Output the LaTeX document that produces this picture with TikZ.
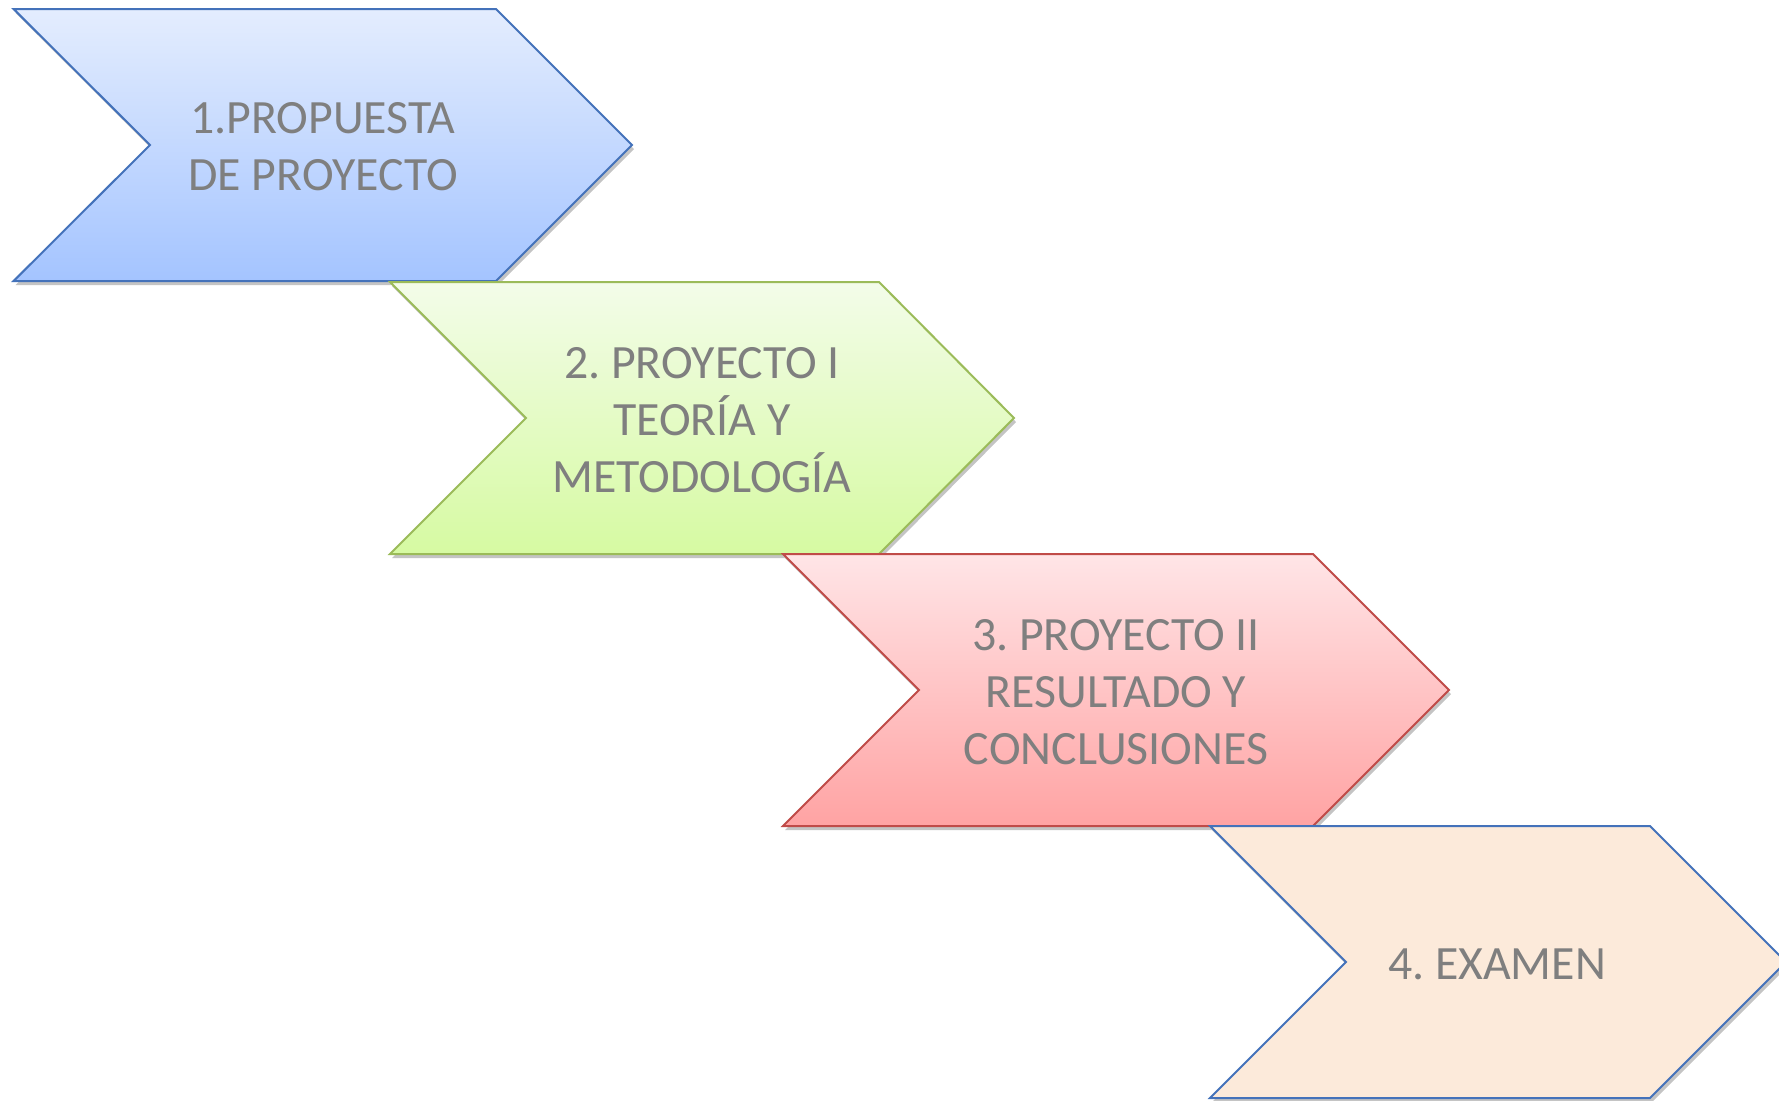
\documentclass[tikz,border=0pt]{standalone}
\usepackage{fontspec}
\setmainfont{Carlito}
\frenchspacing
\definecolor{txtgray}{RGB}{127,127,127}
\definecolor{bluetop}{RGB}{228,237,254}
\definecolor{bluebot}{RGB}{164,196,255}
\definecolor{blueline}{RGB}{68,114,186}
\definecolor{greentop}{RGB}{243,252,233}
\definecolor{greenbot}{RGB}{214,250,162}
\definecolor{greenline}{RGB}{155,187,89}
\definecolor{redtop}{RGB}{255,229,231}
\definecolor{redbot}{RGB}{255,163,163}
\definecolor{redline}{RGB}{192,75,72}
\definecolor{peach}{RGB}{252,234,218}
\definecolor{shadowgray}{RGB}{196,196,196}
\tikzset{
  chev/.style={line width=1pt, line join=miter},
  shad/.style={fill=shadowgray, draw=none},
  lbl/.style={font=\fontsize{23.9}{28.5}\selectfont, text=txtgray, align=center, inner sep=0pt},
}
\begin{document}
\begin{tikzpicture}[x=0.5pt,y=-0.5pt]
\useasboundingbox[fill=white] (0,0) rectangle (1779,1100);
% chevron 1
\fill[shad] (15.6,13) -- (498,13) -- (634,149) -- (498,285) -- (15.6,285) -- (152,149) -- cycle;
\path[chev, draw=blueline, top color=bluetop, bottom color=bluebot]
  (13.6,9) -- (496,9) -- (632,145) -- (496,281) -- (13.6,281) -- (150,145) -- cycle;
% chevron 2
\fill[shad] (392,286) -- (881,286) -- (1016,422) -- (881,558) -- (392,558) -- (528,422) -- cycle;
\path[chev, draw=greenline, top color=greentop, bottom color=greenbot]
  (390,282) -- (879,282) -- (1014,418) -- (879,554) -- (390,554) -- (526,418) -- cycle;
% chevron 3
\fill[shad] (785,558) -- (1315,558) -- (1451,694) -- (1315,830) -- (785,830) -- (921,694) -- cycle;
\path[chev, draw=redline, top color=redtop, bottom color=redbot]
  (783,554) -- (1313,554) -- (1449,690) -- (1313,826) -- (783,826) -- (919,690) -- cycle;
% chevron 4
\fill[shad] (1212,830) -- (1652,830) -- (1788,966) -- (1652,1102) -- (1212,1102) -- (1348,966) -- cycle;
\path[chev, draw=blueline, fill=peach]
  (1210,826) -- (1650,826) -- (1786,962) -- (1650,1098) -- (1210,1098) -- (1346,962) -- cycle;
% labels
\node[lbl] (s1) at (323,147) {1.PROPUESTA\\DE PROYECTO};
\node[lbl] (s2) at (702,420) {2. PROYECTO I\\TEORÍA Y\\METODOLOGÍA};
\node[lbl] (s3) at (1116,692) {3. PROYECTO II\\RESULTADO Y\\CONCLUSIONES};
\node[lbl] (s4) at (1497,964) {4. EXAMEN};
\end{tikzpicture}
\end{document}
